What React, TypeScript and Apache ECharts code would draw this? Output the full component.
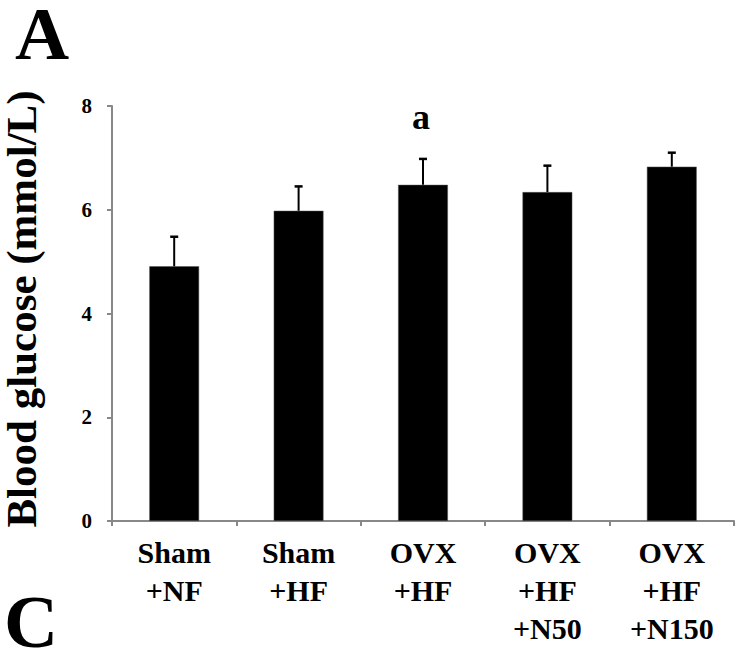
import React, { useEffect, useRef } from "react";
import * as echarts from "echarts";

const categories = ["Sham\n+NF", "Sham\n+HF", "OVX\n+HF", "OVX\n+HF\n+N50", "OVX\n+HF\n+N150"];
const means = [4.91, 5.98, 6.48, 6.34, 6.83];
const errors = [0.57, 0.47, 0.5, 0.51, 0.27];
const sigLabels = ["", "", "a", "", ""];
const yTicks = { min: 0, max: 8, interval: 2 };
const yTitle = "Blood glucose (mmol/L)";
const panelLabels = ["A", "C"];

const FONT = "Liberation Serif";

export default function App() {
  const ref = useRef<HTMLDivElement>(null);
  useEffect(() => {
    if (!ref.current) return;
    const chart = echarts.init(ref.current, undefined, { renderer: "svg" });
    const txt = (size: number) => ({
      fontFamily: FONT,
      fontWeight: "bold" as const,
      fontSize: size,
      fill: "#000",
    });
    chart.setOption({
      animation: false,
      backgroundColor: "#ffffff",
      grid: { left: 112, right: 6, top: 106, bottom: 128, containLabel: false },
      xAxis: {
        type: "category",
        data: categories,
        axisLine: { show: true, lineStyle: { color: "#888888", width: 2 } },
        axisTick: { show: true, length: 5, inside: false, lineStyle: { color: "#888888", width: 2 } },
        axisLabel: {
          interval: 0,
          margin: 12,
          color: "#000",
          fontFamily: FONT,
          fontWeight: "bold",
          fontSize: 30,
          lineHeight: 38,
        },
      },
      yAxis: {
        type: "value",
        min: yTicks.min,
        max: yTicks.max,
        interval: yTicks.interval,
        splitLine: { show: false },
        axisLine: { show: true, lineStyle: { color: "#888888", width: 2 } },
        axisTick: { show: true, length: 5, inside: false, lineStyle: { color: "#888888", width: 2 } },
        axisLabel: {
          margin: 20,
          color: "#000",
          fontFamily: FONT,
          fontWeight: "bold",
          fontSize: 21,
        },
      },
      graphic: [
        {
          type: "text",
          x: 15,
          y: 33,
          style: { text: panelLabels[0], ...txt(75), verticalAlign: "middle", align: "left" },
        },
        {
          type: "text",
          x: 4,
          y: 621,
          style: { text: panelLabels[1], ...txt(75), verticalAlign: "middle", align: "left" },
        },
        {
          type: "text",
          x: 21,
          y: 309,
          rotation: Math.PI / 2,
          style: { text: yTitle, ...txt(43), verticalAlign: "middle", align: "center" },
        },
      ],
      series: [
        {
          type: "bar",
          data: means,
          barWidth: "40%",
          itemStyle: { color: "#000", borderColor: "#555", borderWidth: 0.5 },
        },
        {
          type: "custom",
          data: means.map((m, i) => [i, m, m + errors[i]]),
          z: 5,
          renderItem: (params: any, api: any) => {
            const i = api.value(0);
            const base = api.coord([i, api.value(1)]);
            const top = api.coord([i, api.value(2)]);
            const children: any[] = [
              {
                type: "line",
                shape: { x1: base[0], y1: base[1], x2: top[0], y2: top[1] },
                style: { stroke: "#000", lineWidth: 2 },
              },
              {
                type: "line",
                shape: { x1: top[0] - 4, y1: top[1], x2: top[0] + 4, y2: top[1] },
                style: { stroke: "#000", lineWidth: 2.5 },
              },
            ];
            const lab = sigLabels[params.dataIndex];
            if (lab) {
              children.push({
                type: "text",
                x: top[0] - 2,
                y: top[1] - 42,
                style: { text: lab, ...txt(36), align: "center", verticalAlign: "middle" },
              });
            }
            return { type: "group", children };
          },
        },
      ],
    });
    return () => chart.dispose();
  }, []);
  return (
    <div
      ref={ref}
      style={{ position: "fixed", left: 0, top: 0, width: 740, height: 649, background: "#fff" }}
    />
  );
}
